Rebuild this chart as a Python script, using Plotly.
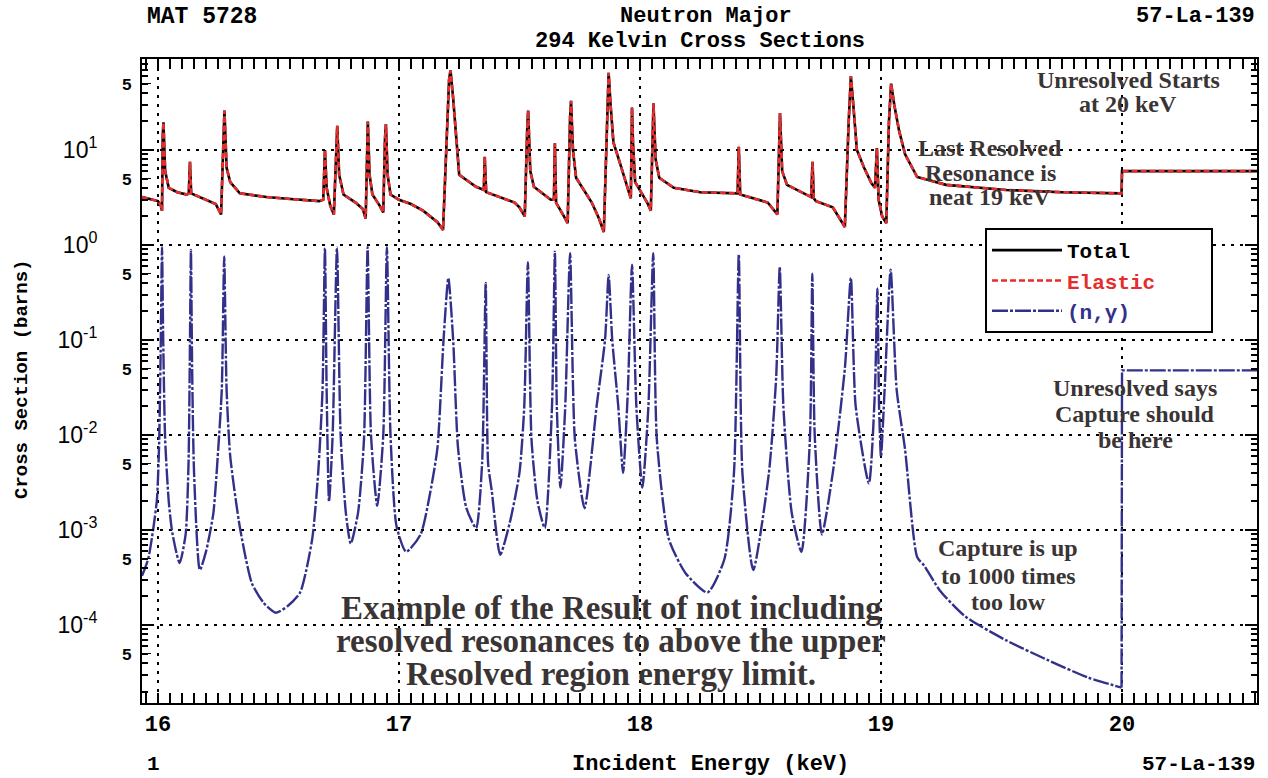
import plotly.graph_objects as go

# ---------------- data ----------------
energy_total_kev = [
    15.934, 16.00, 16.012, 16.017, 16.020, 16.023, 16.03, 16.045, 16.08, 16.12,
    16.128, 16.133, 16.138, 16.20, 16.24, 16.262, 16.272, 16.276, 16.285, 16.30,
    16.34, 16.45, 16.55, 16.67, 16.686, 16.693, 16.70, 16.715, 16.73, 16.740,
    16.744, 16.752, 16.77, 16.82, 16.85, 16.862, 16.868, 16.871, 16.878, 16.89,
    16.92, 16.935, 16.942, 16.946, 16.953, 16.965, 17.00, 17.05, 17.10, 17.16,
    17.183, 17.198, 17.208, 17.214, 17.225, 17.25, 17.32, 17.352, 17.356, 17.362,
    17.42, 17.48, 17.50, 17.522, 17.532, 17.536, 17.545, 17.56, 17.63, 17.643,
    17.647, 17.652, 17.68, 17.700, 17.710, 17.714, 17.722, 17.735, 17.80, 17.83,
    17.85, 17.862, 17.870, 17.878, 17.89, 17.92, 17.95, 17.962, 17.967, 17.971,
    17.98, 18.03, 18.045, 18.052, 18.056, 18.065, 18.08, 18.14, 18.25, 18.405,
    18.410, 18.416, 18.53, 18.57, 18.577, 18.581, 18.59, 18.61, 18.71, 18.716,
    18.721, 18.73, 18.80, 18.83, 18.85, 18.866, 18.875, 18.885, 18.90, 18.93,
    18.96, 18.975, 18.983, 18.990, 19.005, 19.022, 19.033, 19.042, 19.055, 19.075,
    19.10, 19.15, 19.27, 19.52, 19.75, 19.998, 20.0, 20.56,
]
total_barns = [
    3.2, 2.9, 2.6, 2.3, 14.0, 19.6, 6.0, 4.0, 3.6, 3.4,
    3.5, 7.5, 3.5, 3.0, 2.7, 2.1, 18.0, 26.0, 6.5, 4.6,
    3.5, 3.2, 3.05, 2.9, 3.0, 10.0, 4.0, 2.6, 2.1, 12.0,
    18.0, 5.5, 3.4, 2.8, 2.4, 1.9, 14.0, 20.0, 5.5, 3.4,
    2.6, 2.2, 13.0, 18.7, 5.5, 3.4, 3.0, 2.7, 2.3, 1.74,
    1.44, 12.0, 55.0, 69.0, 35.0, 5.5, 4.1, 3.8, 8.5, 3.6,
    3.2, 2.8, 2.5, 2.0, 16.0, 26.0, 6.0, 4.1, 3.0, 3.0,
    11.8, 2.8, 2.1, 1.7, 22.0, 33.0, 10.0, 5.1, 2.8, 1.9,
    1.37, 20.0, 65.0, 30.0, 12.0, 6.9, 4.0, 3.1, 28.0, 12.0,
    4.6, 2.8, 2.3, 20.0, 31.0, 8.0, 5.1, 4.0, 3.6, 3.5,
    10.8, 3.4, 2.8, 2.1, 18.0, 24.5, 6.0, 4.3, 3.2, 7.5,
    3.1, 2.9, 2.5, 1.9, 1.55, 20.0, 60.0, 30.0, 10.0, 6.5,
    4.5, 4.0, 10.5, 3.0, 2.0, 1.7, 20.0, 50.0, 30.0, 16.0,
    9.0, 5.2, 4.3, 3.8, 3.6, 3.5, 6.0, 6.0,
]
# elastic is indistinguishable from total at this scale in the picture
elastic_barns = list(total_barns)

# capture (n,gamma) in the resolved range
energy_capture_kev = [
    15.934, 15.96, 15.98, 15.996, 16.005, 16.012, 16.017, 16.022, 16.03, 16.045,
    16.06, 16.09, 16.115, 16.127, 16.132, 16.137, 16.142, 16.15, 16.174, 16.20,
    16.23, 16.25, 16.265, 16.275, 16.285, 16.30, 16.34, 16.39, 16.44, 16.49,
    16.54, 16.59, 16.64, 16.665, 16.683, 16.693, 16.700, 16.71, 16.725, 16.743,
    16.758, 16.78, 16.80, 16.83, 16.855, 16.870, 16.884, 16.91, 16.935, 16.950,
    16.965, 16.99, 17.03, 17.09, 17.13, 17.16, 17.185, 17.205, 17.225, 17.245,
    17.28, 17.32, 17.345, 17.360, 17.370, 17.385, 17.42, 17.46, 17.50, 17.52,
    17.535, 17.55, 17.575, 17.605, 17.635, 17.647, 17.655, 17.67, 17.69, 17.710,
    17.73, 17.77, 17.82, 17.855, 17.870, 17.885, 17.91, 17.93, 17.95, 17.967,
    17.985, 18.01, 18.035, 18.055, 18.07, 18.12, 18.19, 18.28, 18.35, 18.39,
    18.410, 18.425, 18.47, 18.535, 18.565, 18.580, 18.595, 18.63, 18.67, 18.705,
    18.715, 18.725, 18.755, 18.80, 18.85, 18.875, 18.895, 18.95, 18.975, 18.985,
    18.992, 19.0, 19.015, 19.040, 19.065, 19.10, 19.15, 19.18, 19.245, 19.35,
    19.52, 19.69, 19.86, 19.998,
]
capture_barns = [
    3.3e-4, 5.0e-4, 1.0e-3, 2.1e-3, 8.0e-3, 0.10, 0.95, 0.10, 9.0e-3, 2.0e-3,
    9.3e-4, 4.5e-4, 9.0e-4, 5.0e-3, 0.05, 0.89, 0.05, 4.0e-3, 3.8e-4, 6.0e-4,
    1.5e-3, 7.0e-3, 0.03, 0.76, 0.03, 6.0e-3, 1.07e-3, 2.75e-4, 1.7e-4, 1.35e-4,
    1.6e-4, 2.2e-4, 8.0e-4, 4.0e-3, 0.03, 0.93, 0.03, 2.0e-3, 0.01, 0.95,
    0.01, 1.5e-3, 7.2e-4, 1.5e-3, 9.0e-3, 0.95, 0.01, 1.8e-3, 0.01, 0.95,
    0.01, 1.1e-3, 5.9e-4, 9.0e-4, 2.5e-3, 7.4e-3, 0.10, 0.45, 0.10, 7.4e-3,
    1.7e-3, 1.05e-3, 5.0e-3, 0.40, 5.0e-3, 2.6e-3, 5.5e-4, 1.2e-3, 4.0e-3, 0.02,
    0.66, 9.0e-3, 2.0e-3, 1.05e-3, 0.02, 0.85, 0.02, 2.8e-3, 0.02, 0.82,
    9.0e-3, 1.7e-3, 0.02, 0.10, 0.48, 0.10, 0.02, 4.0e-3, 0.03, 0.62,
    0.02, 2.8e-3, 0.02, 0.82, 9.0e-3, 8.0e-4, 3.5e-4, 2.2e-4, 4.9e-4, 4.0e-3,
    0.80, 4.0e-3, 3.8e-4, 4.0e-3, 0.04, 0.59, 0.02, 1.5e-3, 5.9e-4, 9.0e-3,
    0.50, 0.01, 9.0e-4, 4.0e-3, 0.05, 0.45, 0.02, 3.1e-3, 0.03, 0.35,
    0.02, 5.9e-3, 0.03, 0.55, 0.03, 7.0e-3, 5.2e-4, 4.2e-4, 2.3e-4, 1.23e-4,
    6.9e-5, 4.3e-5, 2.8e-5, 2.2e-5,
]
# capture in the unresolved range (step at 20 keV)
energy_capture_unres_kev = [19.998, 20.0, 20.56]
capture_unres_barns = [2.2e-5, 0.048, 0.048]

x_tick_vals = [16, 17, 18, 19, 20]
x_tick_text = ["16", "17", "18", "19", "20"]
decade_vals = [1e-4, 1e-3, 1e-2, 1e-1, 1e0, 1e1]
decade_text = ["10<sup>-4</sup>", "10<sup>-3</sup>", "10<sup>-2</sup>",
               "10<sup>-1</sup>", "10<sup>0</sup>", "10<sup>1</sup>"]
five_vals = [5e-5, 5e-4, 5e-3, 5e-2, 5e-1, 5e0, 5e1]
five_text = ["5"] * len(five_vals)

# ---------------- layout geometry ----------------
W, H = 1268, 778
ML, MR, MT, MB = 142, 11, 59, 75
PW, PH = W - ML - MR, H - MT - MB
X_RANGE = [15.934, 20.56]
Y_RANGE = [-4.82, 1.958]

MONO = "Liberation Mono"
SERIF = "Liberation Serif"
SANS = "Liberation Sans"
RED = "#e52d2d"
BLUE = "#33308a"
NOTE = "#3a3434"
NBSP = "\u00a0"


def px(xp):
    return (xp - ML) / PW


def py(yp):
    return (H - MB - yp) / PH


fig = go.Figure()
fig.add_trace(go.Scatter(
    x=energy_total_kev, y=total_barns, mode="lines", name="Total" + NBSP * 6,
    line=dict(color="black", width=2.6),
))
fig.add_trace(go.Scatter(
    x=energy_total_kev, y=elastic_barns, mode="lines",
    name="<span style='color:%s'>Elastic</span>" % RED,
    line=dict(color=RED, width=2.6, dash="6px,3px"),
))
fig.add_trace(go.Scatter(
    x=energy_capture_kev, y=capture_barns, mode="lines",
    name="<span style='color:%s'>(n,γ)</span>" % BLUE, legendgroup="cap",
    line=dict(color=BLUE, width=2.4, dash="16px,2px,3px,2px", shape="spline", smoothing=0.6),
))
fig.add_trace(go.Scatter(
    x=energy_capture_unres_kev, y=capture_unres_barns, mode="lines",
    name="(n,γ) unresolved", legendgroup="cap", showlegend=False,
    line=dict(color=BLUE, width=2.4, dash="16px,2px,3px,2px"),
))
# invisible carrier so the secondary "5" tick axis is drawn
fig.add_trace(go.Scatter(
    x=[None], y=[None], yaxis="y2", mode="lines", showlegend=False, hoverinfo="skip",
))

annotations = []


def note(text, x, y, size, family=SERIF, color=NOTE, xanchor="center", angle=0, bold=True):
    annotations.append(dict(
        text=text, x=px(x), y=py(y), xref="paper", yref="paper", showarrow=False,
        xanchor=xanchor, yanchor="middle", textangle=angle,
        font=dict(family=family, size=size, color=color, weight="bold" if bold else "normal"),
    ))


# header / footer
note("MAT 5728", 145, 17, 23, MONO, "black", "left")
note("Neutron Major", 706, 17, 22, MONO, "black")
note("294 Kelvin Cross Sections", 700, 42, 22, MONO, "black")
note("57-La-139", 1257, 17, 22, MONO, "black", "right")
note("1", 145, 764, 21, MONO, "black", "left")
note("Incident Energy (keV)", 710, 764, 22, MONO, "black")
note("57-La-139", 1257, 764, 21, MONO, "black", "right")
note("Cross Section (barns)", 22, 380, 19, MONO, "black", angle=-90)

# in-plot notes
for txt, y in [("Unresolved Starts", 80), ("at 20 keV", 104)]:
    note(txt, 1128, y, 24)
for txt, y in [("Last Resolved", 148), ("Resonance is", 173), ("neat 19 keV", 197)]:
    note(txt, 990, y, 24)
for txt, y in [("Unresolved says", 388), ("Capture should", 414), ("be here", 440)]:
    note(txt, 1135, y, 24)
for txt, y in [("Capture is up", 548), ("to 1000 times", 576), ("too low", 602)]:
    note(txt, 1008, y, 24)
for txt, y in [("Example of the Result of not including", 608),
               ("resolved resonances to above the upper", 641),
               ("Resolved region energy limit.", 674)]:
    note(txt, 611, y, 33)

grid_style = dict(showgrid=True, gridcolor="black", gridwidth=2, griddash="3px,6px")

fig.update_layout(
    width=W, height=H,
    margin=dict(l=ML, r=MR, t=MT, b=MB, autoexpand=False),
    paper_bgcolor="white", plot_bgcolor="white",
    showlegend=True,
    legend=dict(
        x=px(985), y=py(228), xanchor="left", yanchor="top",
        bgcolor="white", bordercolor="black", borderwidth=2,
        font=dict(family=MONO, size=21, color="black", weight="bold"),
        itemwidth=70, tracegroupgap=0,
    ),
    annotations=annotations,
    xaxis=dict(
        range=X_RANGE, tickvals=x_tick_vals, ticktext=x_tick_text,
        ticks="inside", ticklen=10, tickwidth=1.5, tickcolor="black",
        showline=True, linecolor="black", linewidth=2, mirror="allticks",
        tickfont=dict(family=MONO, size=22, color="black", weight="bold"),
        minor=dict(dtick=0.05, ticks="inside", ticklen=5, tickcolor="black", showgrid=False),
        zeroline=False, **grid_style,
    ),
    yaxis=dict(
        type="log", range=Y_RANGE, tickvals=decade_vals, ticktext=decade_text,
        ticks="inside", ticklen=12, tickwidth=1.5, tickcolor="black",
        showline=True, linecolor="black", linewidth=2, mirror="allticks",
        tickfont=dict(family=SANS, size=23, color="black"),
        ticklabelstandoff=38,
        minor=dict(dtick="D1", ticks="inside", ticklen=6, tickcolor="black", showgrid=False),
        zeroline=False, **grid_style,
    ),
    yaxis2=dict(
        type="log", range=Y_RANGE, overlaying="y", side="left", anchor="x",
        tickvals=five_vals, ticktext=five_text,
        ticks="inside", ticklen=9, tickcolor="black",
        tickfont=dict(family=MONO, size=17, color="black", weight="bold"),
        ticklabelstandoff=9,
        showgrid=False, showline=False, zeroline=False,
    ),
)

fig.write_html(
    "out.html",
    config={"displayModeBar": False},
    post_script="document.body.style.margin='0';document.body.style.overflow='hidden';",
)
